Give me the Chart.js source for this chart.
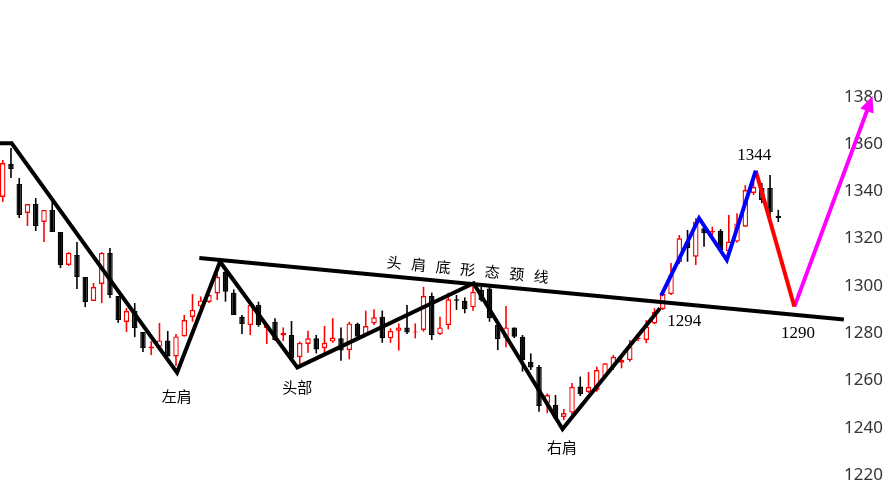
<!DOCTYPE html>
<html>
<head>
<meta charset="utf-8">
<script src="https://cdn.jsdelivr.net/npm/chart.js@4.4.1/dist/chart.umd.min.js"></script>
<style>
    html, body { margin: 0; padding: 0; background: #fff; }
    #wrap { width: 890px; height: 500px; position: relative; }
</style>
</head>
<body>
<div id="wrap"><canvas id="chart"></canvas></div>
<script>
// ============================================================================
// 头肩底形态 - K线 + 形态线
// ============================================================================

// K线 (第 0..94 根)
const opens  = [1337.6,1351.5,1343.1,1330.8,1334.6,1327.0,1332.1,1322.8,1308.8,1313.0,
                1303.7,1293.6,1300.8,1313.9,1295.7,1284.7,1289.3,1280.5,1273.5,1274.3,
                1276.9,1270.1,1278.6,1286.8,1291.2,1293.2,1296.8,1306.0,1297.1,1286.9,
                1283.4,1291.9,1282.0,1284.8,1279.0,1279.2,1269.8,1275.4,1277.8,1273.6,
                1276.4,1277.8,1272.8,1283.8,1279.2,1284.1,1286.9,1277.8,1281.0,1282.4,
                1280.3,1281.3,1295.7,1279.6,1283.4,1294.3,1293.7,1290.9,1298.2,1298.9,
                1283.4,1277.8,1282.4,1278.5,1267.9,1265.7,1250.4,1249.6,1244.5,1246.4,
                1257.4,1255.1,1255.9,1261.6,1265.8,1267.5,1268.6,1277.5,1277.1,1284.1,
                1290.1,1296.5,1310.1,1318.7,1312.3,1324.3,1322.5,1323.3,1314.7,1318.7,
                1325.0,1339.3,1341.4,1341.4,1329.5];
const highs  = [1353.2,1358.3,1345.6,1334.6,1337.1,1332.1,1335.5,1322.8,1314.3,1318.5,
                1303.7,1301.2,1314.3,1316.0,1295.7,1290.6,1292.7,1280.5,1276.6,1284.3,
                1280.9,1279.6,1287.7,1296.5,1295.5,1298.2,1305.3,1307.4,1298.5,1287.7,
                1292.6,1293.3,1284.1,1286.3,1282.4,1285.1,1276.4,1281.0,1279.2,1283.0,
                1286.3,1282.4,1284.8,1284.4,1289.5,1290.1,1289.5,1282.0,1284.1,1291.9,
                1284.1,1299.6,1297.1,1286.9,1297.1,1296.1,1295.1,1300.3,1299.6,1299.6,
                1284.1,1291.5,1282.4,1279.2,1271.4,1266.5,1254.5,1253.8,1247.9,1258.9,
                1261.6,1263.5,1265.8,1267.2,1270.7,1270.7,1277.1,1279.2,1285.5,1290.5,
                1297.1,1309.7,1321.5,1323.6,1328.6,1325.7,1325.0,1324.0,1330.0,1330.7,
                1342.6,1344.3,1343.5,1346.9,1332.1];
const lows   = [1335.5,1345.6,1328.7,1325.3,1323.2,1318.5,1322.8,1307.5,1308.4,1298.7,
                1291.0,1293.6,1292.7,1294.8,1284.3,1280.5,1278.3,1272.0,1270.7,1274.1,
                1270.1,1266.1,1278.6,1284.8,1290.5,1292.7,1294.0,1293.3,1287.7,1279.6,
                1279.2,1282.7,1275.4,1276.8,1276.6,1267.8,1266.5,1271.7,1271.4,1271.7,
                1275.9,1268.3,1268.9,1278.5,1278.8,1283.4,1275.9,1275.9,1272.6,1279.6,
                1277.8,1280.6,1277.1,1279.2,1281.6,1289.8,1288.4,1289.5,1293.3,1284.8,
                1272.8,1274.0,1277.9,1263.7,1264.4,1246.7,1246.1,1244.1,1243.2,1244.1,
                1253.4,1254.7,1255.2,1261.0,1264.4,1265.1,1267.9,1276.6,1275.7,1283.8,
                1289.8,1296.1,1309.2,1310.2,1308.8,1316.5,1320.8,1315.1,1314.7,1318.2,
                1325.0,1338.4,1335.0,1328.7,1327.0];
const closes = [1351.9,1349.4,1330.0,1334.6,1325.3,1332.1,1322.8,1308.8,1313.9,1303.7,
                1293.2,1299.5,1313.9,1296.1,1285.5,1289.3,1282.2,1273.7,1274.3,1276.9,
                1270.1,1278.6,1285.5,1289.8,1293.8,1296.1,1303.8,1297.5,1287.7,1283.8,
                1291.9,1283.4,1283.4,1277.1,1280.0,1269.5,1275.9,1277.8,1273.1,1275.9,
                1278.1,1272.6,1284.1,1278.5,1283.0,1286.7,1277.8,1281.0,1282.4,1280.2,
                1280.7,1295.7,1279.2,1282.4,1294.3,1293.7,1290.1,1297.5,1294.0,1286.3,
                1277.4,1282.4,1278.5,1268.6,1265.5,1249.2,1253.8,1244.1,1246.2,1257.3,
                1254.2,1257.2,1264.4,1267.2,1270.0,1268.6,1274.2,1278.1,1282.7,1289.0,
                1296.5,1304.6,1320.1,1315.9,1327.1,1322.2,1323.2,1315.1,1318.7,1326.4,
                1340.5,1341.8,1336.3,1331.2,1328.7];

// 形态线 (x = K线序号, y = 价格)
const zigzagX   = [-0.33, 1.09, 21.13, 26.34, 35.71, 57.07, 67.85, 79.67];
const zigzagY   = [1360.3, 1360.3, 1263.3, 1310.2, 1265.5, 1301.1, 1239.4, 1290.5];
const necklineX = [23.83, 101.95];
const necklineY = [1311.8, 1285.8];
const blueX     = [79.8, 84.4, 87.76, 91.27];
const blueY     = [1295.9, 1328.6, 1310.9, 1348.7];
const redX      = [91.27, 95.95];
const redY      = [1348.7, 1291.2];
const magentaX  = [95.95, 105.12];
const magentaY  = [1291.2, 1377.5];

// 坐标轴
const priceTicks = [1220, 1240, 1260, 1280, 1300, 1320, 1340, 1360, 1380];

// 标注
const labels = [
    { text: "左肩", x: 21.1, y: 1253.4, font: "15px 'Noto Sans CJK SC'" },
    { text: "头部", x: 35.7, y: 1257.2, font: "15px 'Noto Sans CJK SC'" },
    { text: "右肩", x: 67.8, y: 1231.8, font: "15px 'Noto Sans CJK SC'" },
    { text: "1344", x: 91.1, y: 1354.9, font: "17px 'Liberation Serif'" },
    { text: "1294", x: 82.6, y: 1285.1, font: "17px 'Liberation Serif'" },
    { text: "1290", x: 96.4, y: 1280.0, font: "17px 'Liberation Serif'" }
];
const necklineText = "头肩底形态颈线";
const necklineTextFrom = 47.3;
const necklineTextTo = 65.1;

const UP = "#ff0000";
const DOWN = "#000000";

const isUp = opens.map((o, i) => closes[i] >= o);
const bodyData = opens.map((o, i) => ({ x: i, y: [o, closes[i]] }));
const wickData = opens.map((o, i) => ({ x: i, y: [lows[i], highs[i]] }));
const toPoints = (xs, ys) => xs.map((x, i) => ({ x: x, y: ys[i] }));

function lineDataset(xs, ys, color) {
    return {
        type: 'line',
        data: toPoints(xs, ys),
        borderColor: color,
        borderWidth: 4,
        pointRadius: 0,
        tension: 0,
        fill: false,
        clip: false,
        order: 1
    };
}

const overlayPlugin = {
    id: 'overlay',
    afterDatasetsDraw(chart) {
        const { ctx, scales: { x, y } } = chart;
        ctx.save();

        // 箭头
        const meta = chart.getDatasetMeta(6);
        const p1 = meta.data[meta.data.length - 2];
        const p2 = meta.data[meta.data.length - 1];
        const len = Math.hypot(p2.x - p1.x, p2.y - p1.y);
        const dx = (p2.x - p1.x) / len, dy = (p2.y - p1.y) / len;
        const tipX = p2.x + dx * 7, tipY = p2.y + dy * 7;
        const bx = p2.x - dx * 9, by = p2.y - dy * 9;
        ctx.fillStyle = "#ff00ff";
        ctx.beginPath();
        ctx.moveTo(tipX, tipY);
        ctx.lineTo(bx - dy * 7, by + dx * 7);
        ctx.lineTo(bx + dy * 7, by - dx * 7);
        ctx.closePath();
        ctx.fill();

        // 文字
        ctx.fillStyle = "#000";
        ctx.textAlign = "center";
        ctx.textBaseline = "middle";
        labels.forEach(l => {
            ctx.font = l.font;
            ctx.fillText(l.text, x.getPixelForValue(l.x), y.getPixelForValue(l.y));
        });

        // 颈线文字
        const ax = x.getPixelForValue(necklineX[0]), ay = y.getPixelForValue(necklineY[0]);
        const bx2 = x.getPixelForValue(necklineX[1]), by2 = y.getPixelForValue(necklineY[1]);
        const ang = Math.atan2(by2 - ay, bx2 - ax);
        ctx.font = "15px 'Noto Sans CJK SC'";
        const chars = [...necklineText];
        chars.forEach((c, k) => {
            const v = necklineTextFrom + k * (necklineTextTo - necklineTextFrom) / (chars.length - 1);
            const px = x.getPixelForValue(v);
            const py = ay + (px - ax) * Math.tan(ang);
            ctx.save();
            ctx.translate(px + Math.sin(ang) * 14, py - Math.cos(ang) * 14);
            ctx.rotate(ang);
            ctx.fillText(c, 0, 0);
            ctx.restore();
        });

        ctx.restore();
    }
};

new Chart(document.getElementById("chart"), {
    type: 'bar',
    data: {
        datasets: [
            {
                data: wickData,
                backgroundColor: isUp.map(u => u ? UP : DOWN),
                borderWidth: 0,
                grouped: false,
                maxBarThickness: 1.6,
                order: 3
            },
            {
                data: bodyData,
                backgroundColor: isUp.map(u => u ? "#ffffff" : DOWN),
                borderColor: isUp.map(u => u ? UP : DOWN),
                borderWidth: 1.4,
                borderSkipped: false,
                grouped: false,
                maxBarThickness: 5.5,
                order: 2
            },
            lineDataset(zigzagX, zigzagY, "#000000"),
            lineDataset(necklineX, necklineY, "#000000"),
            lineDataset(blueX, blueY, "#0000ff"),
            lineDataset(redX, redY, "#ff0000"),
            lineDataset(magentaX, magentaY, "#ff00ff")
        ]
    },
    options: {
        responsive: true,
        maintainAspectRatio: false,
        animation: false,
        layout: { padding: 0 },
        plugins: { legend: { display: false }, tooltip: { enabled: false } },
        scales: {
            x: {
                type: 'linear',
                display: false,
                offset: false,
                min: -0.33,
                max: 101.6
            },
            y: {
                position: 'right',
                min: 1209.4,
                max: 1420.9,
                grid: { display: false, drawTicks: false },
                border: { display: false },
                ticks: {
                    padding: 3,
                    color: "#333",
                    font: { family: "'Noto Sans'", size: 17 },
                    callback: (v) => String(v)
                },
                afterBuildTicks: (scale) => {
                    scale.ticks = priceTicks.map(v => ({ value: v }));
                },
                afterFit: (scale) => {
                    scale.width = 49;
                    scale.paddingTop = 0;
                    scale.paddingBottom = 0;
                }
            }
        }
    },
    plugins: [overlayPlugin]
});
</script>
</body>
</html>
